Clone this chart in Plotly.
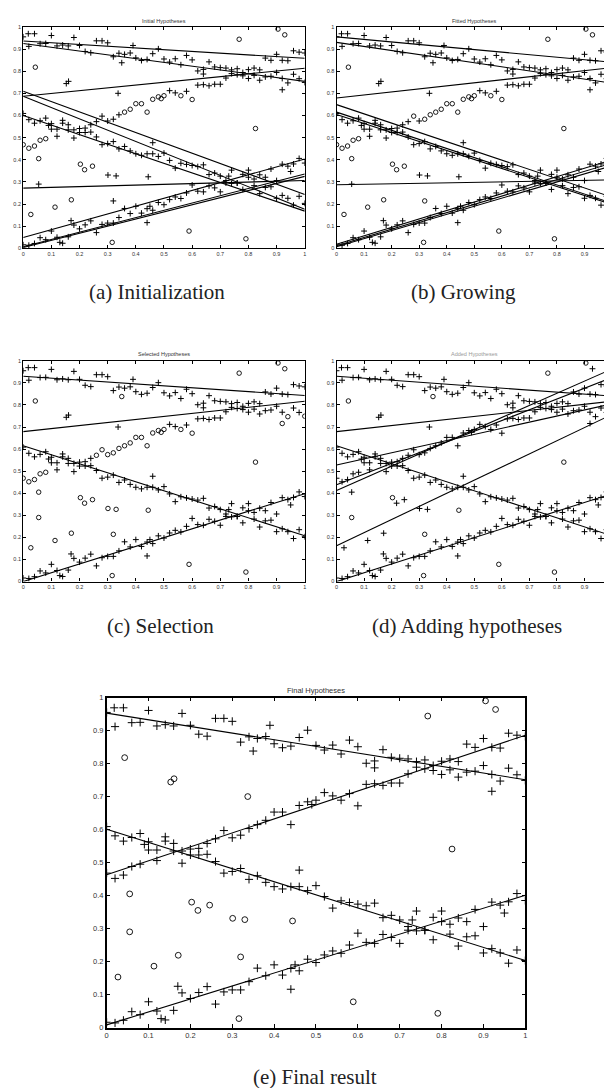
import plotly.graph_objects as go
import math

# ---------------- data ----------------
lineA_x = [0.00,0.018,0.02,0.04,0.06,0.08,0.10,0.12,0.14,0.16,0.18,0.20,0.22,0.24,0.26,0.28,0.30,0.32,0.34,0.35,0.36,0.38,0.39,0.40,0.42,0.44,0.46,0.48,0.50,0.52,0.54,0.56,0.58,0.60,0.62,0.64,0.64,0.66,0.68,0.70,0.72,0.74,0.76,0.78,0.80,0.82,0.84,0.86,0.88,0.90,0.92,0.92,0.94,0.96,0.98,1.00]
lineA_y = [0.955,0.969,0.912,0.969,0.924,0.925,0.961,0.914,0.918,0.914,0.952,0.916,0.889,0.883,0.937,0.937,0.928,0.865,0.881,0.838,0.876,0.882,0.916,0.860,0.848,0.853,0.879,0.901,0.855,0.841,0.856,0.829,0.871,0.851,0.801,0.808,0.787,0.842,0.819,0.816,0.814,0.806,0.811,0.794,0.767,0.781,0.759,0.774,0.777,0.794,0.767,0.716,0.747,0.786,0.766,0.749]

lineB_x = [0.00,0.02,0.04,0.06,0.08,0.10,0.12,0.14,0.16,0.18,0.20,0.22,0.24,0.26,0.28,0.30,0.32,0.34,0.36,0.38,0.40,0.42,0.44,0.46,0.48,0.49,0.50,0.52,0.54,0.56,0.58,0.60,0.62,0.64,0.66,0.68,0.70,0.72,0.74,0.76,0.78,0.80,0.82,0.84,0.86,0.88,0.90,0.92,0.94,0.96,0.98,1.00]
lineB_y = [0.468,0.452,0.462,0.488,0.495,0.538,0.506,0.565,0.535,0.498,0.541,0.543,0.558,0.572,0.597,0.575,0.583,0.603,0.615,0.628,0.653,0.653,0.615,0.673,0.684,0.676,0.689,0.712,0.702,0.689,0.709,0.672,0.737,0.739,0.734,0.741,0.741,0.769,0.789,0.784,0.779,0.807,0.814,0.806,0.859,0.849,0.876,0.849,0.847,0.892,0.886,0.882]

lineC_x = [0.00,0.02,0.04,0.06,0.08,0.09,0.10,0.12,0.14,0.16,0.18,0.20,0.22,0.24,0.26,0.28,0.30,0.32,0.34,0.36,0.38,0.40,0.42,0.44,0.46,0.46,0.48,0.50,0.52,0.54,0.56,0.58,0.60,0.62,0.64,0.66,0.68,0.70,0.72,0.73,0.74,0.76,0.78,0.80,0.82,0.84,0.86,0.88,0.90,0.92,0.94,0.96,0.98,1.00]
lineC_y = [0.609,0.581,0.565,0.576,0.588,0.555,0.563,0.538,0.578,0.558,0.535,0.523,0.523,0.525,0.503,0.468,0.473,0.482,0.449,0.460,0.440,0.427,0.420,0.427,0.477,0.427,0.415,0.430,0.397,0.362,0.384,0.379,0.374,0.369,0.377,0.333,0.340,0.326,0.306,0.326,0.353,0.295,0.334,0.353,0.283,0.247,0.275,0.278,0.226,0.239,0.226,0.195,0.235,0.203]

lineD_x = [0.00,0.02,0.04,0.06,0.08,0.10,0.12,0.13,0.14,0.16,0.17,0.18,0.20,0.22,0.24,0.26,0.28,0.30,0.32,0.34,0.36,0.38,0.40,0.42,0.44,0.44,0.45,0.46,0.48,0.50,0.52,0.54,0.56,0.58,0.60,0.62,0.64,0.66,0.68,0.70,0.72,0.74,0.76,0.78,0.80,0.82,0.84,0.86,0.88,0.90,0.92,0.94,0.95,0.96,0.98,1.00]
lineD_y = [0.016,0.014,0.022,0.048,0.039,0.078,0.050,0.027,0.023,0.052,0.125,0.105,0.088,0.106,0.124,0.071,0.108,0.114,0.114,0.139,0.180,0.157,0.190,0.159,0.179,0.116,0.190,0.172,0.207,0.197,0.220,0.232,0.225,0.250,0.286,0.258,0.255,0.282,0.273,0.255,0.295,0.293,0.295,0.266,0.321,0.313,0.332,0.321,0.358,0.306,0.380,0.371,0.347,0.381,0.406,0.385]

outlier_x = [0.027,0.043,0.055,0.055,0.113,0.153,0.161,0.171,0.203,0.218,0.246,0.301,0.316,0.320,0.330,0.337,0.444,0.589,0.767,0.791,0.825,0.905,0.929]
outlier_y = [0.153,0.818,0.405,0.290,0.186,0.744,0.754,0.219,0.380,0.355,0.371,0.331,0.027,0.214,0.327,0.700,0.323,0.078,0.944,0.043,0.541,0.990,0.964]

# hypothesis lines: value at x=0 and value at x=1
hyp_a_y0 = [0.936,0.925,0.687,0.709,0.687,0.600,0.049,0.007,0.004,0.272]
hyp_a_y1 = [0.858,0.754,0.813,0.243,0.176,0.168,0.403,0.336,0.325,0.306]
hyp_b_y0 = [0.955,0.930,0.679,0.649,0.615,0.604,0.018,0.012,0.007,0.287]
hyp_b_y1 = [0.840,0.746,0.816,0.231,0.204,0.198,0.400,0.385,0.373,0.309]
hyp_c_y0 = [0.930,0.679,0.615,0.000]
hyp_c_y1 = [0.843,0.817,0.207,0.398]
hyp_d_y0 = [0.930,0.679,0.615,0.000,0.528,0.438,0.413,0.162]
hyp_d_y1 = [0.840,0.817,0.207,0.398,0.805,0.924,0.963,0.757]
hyp_e_y0 = [0.953,0.463,0.601,0.008]
hyp_e_y1 = [0.751,0.886,0.203,0.401]

panel_titles = ["Initial Hypotheses", "Fitted Hypotheses", "Selected Hypotheses",
                "Added Hypotheses", "Final Hypotheses"]
captions = ["(a) Initialization", "(b) Growing", "(c) Selection",
            "(d) Adding hypotheses", "(e) Final result"]
tick_vals = [0, 0.1, 0.2, 0.3, 0.4, 0.5, 0.6, 0.7, 0.8, 0.9, 1]
tick_text = ["0", "0.1", "0.2", "0.3", "0.4", "0.5", "0.6", "0.7", "0.8", "0.9", "1"]
line_x = [0, 1]

# ---------------- layout geometry ----------------
W, H = 612, 1088
def px_x(a, b):
    return [a / W, b / W]
def px_y(top, bottom):
    return [1 - bottom / H, 1 - top / H]

panels = [
    dict(dx=px_x(13.3, 296.7), dy=px_y(15, 238.3), hyp=(hyp_a_y0, hyp_a_y1), small=True,
         tx=155, ty=9, cx=148, cy=282),
    dict(dx=px_x(328.7, 606), dy=px_y(15, 238.3), hyp=(hyp_b_y0, hyp_b_y1), small=True,
         tx=468, ty=9, cx=456, cy=282),
    dict(dx=px_x(13.3, 296.7), dy=px_y(351.7, 574.3), hyp=(hyp_c_y0, hyp_c_y1), small=True,
         tx=155, ty=345, cx=151, cy=619),
    dict(dx=px_x(328.7, 606), dy=px_y(351.7, 574.3), hyp=(hyp_d_y0, hyp_d_y1), small=True,
         tx=468, ty=345, cx=460, cy=619),
    dict(dx=px_x(97.3, 518.7), dy=px_y(691.3, 1024), hyp=(hyp_e_y0, hyp_e_y1), small=False,
         tx=308, ty=684, cx=307, cy=1074),
]

all_x = lineA_x + lineB_x + lineC_x + lineD_x
all_y = lineA_y + lineB_y + lineC_y + lineD_y

def near_any(x, y, y0s, y1s, thr=0.056):
    for a, b in zip(y0s, y1s):
        s = b - a
        d = abs(y - (a + s * x)) / math.sqrt(1 + s * s)
        if d < thr:
            return True
    return False

fig = go.Figure()
layout = dict(width=W, height=H, margin=dict(l=0, r=0, t=0, b=0),
              paper_bgcolor="white", plot_bgcolor="white", showlegend=False,
              annotations=[])

for i, p in enumerate(panels):
    k = "" if i == 0 else str(i + 1)
    xa, ya = "x" + k, "y" + k
    small = p["small"]
    msz_plus = 4.2 if small else 5.8
    msz_circ = 4.5 if small else 5.8
    fsz = 5.5 if small else 7.5

    px_all = all_x + outlier_x
    py_all = all_y + outlier_y
    if i < 4:
        y0s, y1s = p["hyp"]
        is_plus = [near_any(x, y, y0s, y1s) for x, y in zip(px_all, py_all)]
    else:
        is_plus = [True] * len(all_x) + [False] * len(outlier_x)

    plus_x = [x for x, f in zip(px_all, is_plus) if f]
    plus_y = [y for y, f in zip(py_all, is_plus) if f]
    circ_x = [x for x, f in zip(px_all, is_plus) if not f]
    circ_y = [y for y, f in zip(py_all, is_plus) if not f]

    fig.add_trace(go.Scatter(x=plus_x, y=plus_y, mode="markers", xaxis=xa, yaxis=ya,
                             marker=dict(symbol="cross-thin", size=msz_plus,
                                         line=dict(color="black", width=1.0))))
    fig.add_trace(go.Scatter(x=circ_x, y=circ_y, mode="markers", xaxis=xa, yaxis=ya,
                             marker=dict(symbol="circle-open", size=msz_circ, color="black",
                                         line=dict(color="black", width=0.9))))
    for a, b in zip(*p["hyp"]):
        fig.add_trace(go.Scatter(x=line_x, y=[a, b], mode="lines", xaxis=xa, yaxis=ya,
                                 line=dict(color="black", width=1.1)))

    axis_common = dict(range=[0, 1], showgrid=False, zeroline=False, showline=True,
                       linecolor="black", linewidth=1.2 if small else 1.5,
                       mirror="ticks", ticks="inside", ticklen=3 if small else 4,
                       tickcolor="black", tickvals=tick_vals, ticktext=tick_text,
                       tickfont=dict(family="Liberation Sans, Arial", size=fsz, color="#333"))
    layout["xaxis" + k] = dict(domain=p["dx"], anchor=ya, **axis_common)
    layout["yaxis" + k] = dict(domain=p["dy"], anchor=xa, **axis_common)

    title_color = "#333" if i != 3 else "#999"
    layout["annotations"].append(dict(
        text=panel_titles[i], x=p["tx"] / W, y=1 - p["ty"] / H, xref="paper", yref="paper",
        showarrow=False, xanchor="center", yanchor="middle",
        font=dict(family="Liberation Sans, Arial", size=fsz, color=title_color)))
    layout["annotations"].append(dict(
        text=captions[i], x=p["cx"] / W, y=1 - p["cy"] / H, xref="paper", yref="paper",
        showarrow=False, xanchor="center", yanchor="middle",
        font=dict(family="Liberation Serif, Times New Roman", size=21, color="#222")))

fig.update_layout(**layout)
fig.write_html("out.html")
